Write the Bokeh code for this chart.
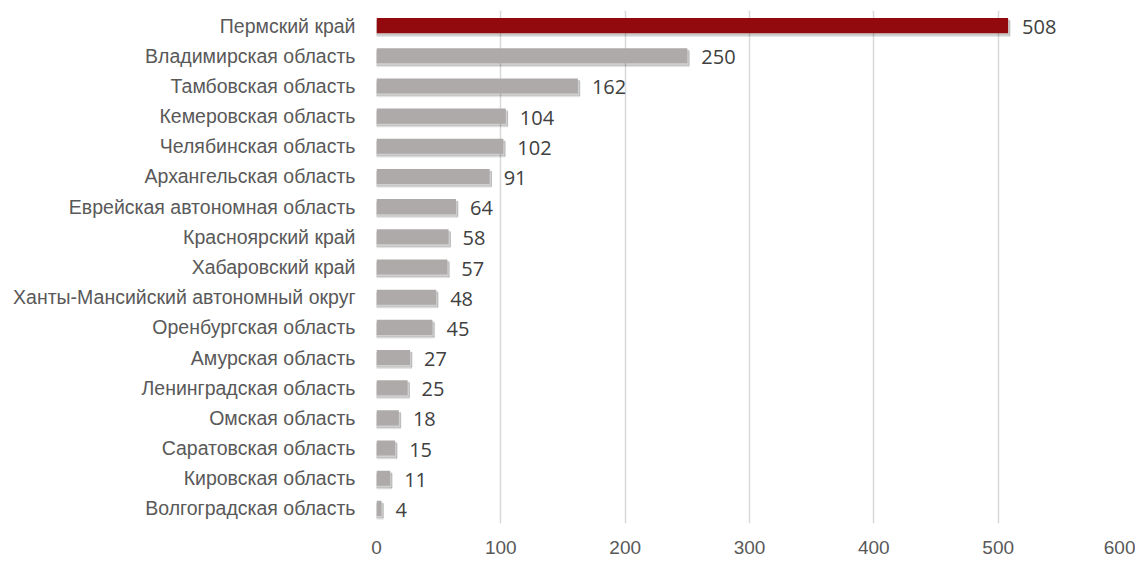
from bokeh.plotting import figure
from bokeh.models import ColumnDataSource, FactorRange, Range1d, FixedTicker
from bokeh.transform import dodge
from bokeh.core.properties import value
from bokeh.embed import file_html
from bokeh.resources import INLINE

regions = [
    "Пермский край", "Владимирская область", "Тамбовская область",
    "Кемеровская область", "Челябинская область", "Архангельская область",
    "Еврейская автономная область", "Красноярский край", "Хабаровский край",
    "Ханты-Мансийский автономный округ", "Оренбургская область",
    "Амурская область", "Ленинградская область", "Омская область",
    "Саратовская область", "Кировская область", "Волгоградская область",
]
counts = [508, 250, 162, 104, 102, 91, 64, 58, 57, 48, 45, 27, 25, 18, 15, 11, 4]
x_ticks = [0, 100, 200, 300, 400, 500, 600]

RED = "#920A0E"
GREY = "#AEAAAA"
colors = [RED] + [GREY] * (len(regions) - 1)

src = ColumnDataSource(dict(
    region=regions,
    count=counts,
    shadow_right=[c + 1.5 for c in counts],
    color=colors,
    label=[str(c) for c in counts],
))

W, H = 1135, 558
p = figure(
    width=W, height=H,
    y_range=FactorRange(*reversed(regions), range_padding=0),
    x_range=Range1d(0, 600),
    output_backend="svg", toolbar_location=None,
    min_border_left=376, min_border_right=13, min_border_top=10, min_border_bottom=35,
)
p.outline_line_color = None
p.background_fill_color = "white"
p.border_fill_color = "white"

# grid
p.ygrid.grid_line_color = None
p.xgrid.grid_line_color = "#D9D9D9"
p.xgrid.grid_line_width = 1.5
p.xaxis.ticker = FixedTicker(ticks=x_ticks)

# soft shadows
p.hbar(y=dodge("region", -0.11, range=p.y_range), left=0, right="shadow_right",
       height=0.5, source=src, color="#000000", alpha=0.07)
p.hbar(y=dodge("region", -0.07, range=p.y_range), left=0, right="shadow_right",
       height=0.5, source=src, color="#000000", alpha=0.12)
# bars
p.hbar(y="region", left=0, right="count", height=0.5, source=src,
       fill_color="color", line_color=None)

# value labels
p.text(x="count", y=dodge("region", -0.05, range=p.y_range), text="label", source=src,
       x_offset=14, text_baseline="middle", text_align="left",
       text_font=value("Open Sans"), text_font_size="20px", text_color="#404040")

for ax in (p.xaxis, p.yaxis):
    ax.axis_line_color = None
    ax.major_tick_line_color = None
    ax.minor_tick_line_color = None
    ax.major_tick_out = 0
    ax.major_label_text_font = "Liberation Sans"
    ax.major_label_text_color = "#595959"

p.yaxis.major_label_text_font_size = "19.5px"
p.yaxis.major_label_standoff = 21
p.xaxis.major_label_text_font_size = "19px"
p.xaxis.major_label_standoff = 17

open("out.html", "w").write(file_html(p, INLINE))
